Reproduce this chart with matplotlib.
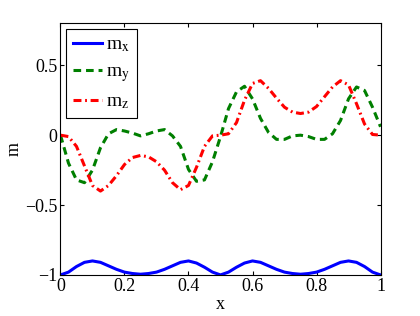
import numpy as np
import matplotlib.pyplot as plt

plt.rcParams['font.family'] = ['Liberation Serif', 'DejaVu Serif']
plt.rcParams['mathtext.fontset'] = 'stix'

x = np.linspace(0, 1, 41)

m_x = [-1.0, -0.98, -0.94, -0.91, -0.90, -0.91, -0.935, -0.96, -0.98, -0.99,
       -0.995, -0.99, -0.98, -0.96, -0.935, -0.91, -0.90, -0.915, -0.945, -0.98,
       -1.0, -0.98, -0.945, -0.915, -0.90, -0.91, -0.935, -0.96, -0.98, -0.99,
       -0.995, -0.99, -0.98, -0.96, -0.935, -0.91, -0.90, -0.91, -0.94, -0.98,
       -1.0]

m_y = [0.0, -0.2, -0.32, -0.34, -0.25, -0.09, 0.01, 0.04, 0.03, 0.015,
       -0.005, 0.01, 0.03, 0.04, -0.005, -0.08, -0.245, -0.33, -0.32, -0.19,
       -0.01, 0.19, 0.31, 0.35, 0.26, 0.12, 0.02, -0.03, -0.03, -0.005,
       0.0, -0.01, -0.03, -0.03, 0.01, 0.105, 0.26, 0.345, 0.32, 0.2,
       0.06]

m_z = [0.0, -0.01, -0.08, -0.22, -0.36, -0.40, -0.36, -0.29, -0.21, -0.16,
       -0.145, -0.155, -0.19, -0.25, -0.34, -0.39, -0.36, -0.23, -0.08, -0.005,
       0.0, 0.01, 0.09, 0.25, 0.37, 0.39, 0.335, 0.265, 0.20, 0.165,
       0.155, 0.165, 0.205, 0.275, 0.345, 0.39, 0.36, 0.225, 0.08, 0.005,
       0.0]

xticks = [0, 0.2, 0.4, 0.6, 0.8, 1]
xticklabels = ['0', '0.2', '0.4', '0.6', '0.8', '1']
yticks = [-1, -0.5, 0, 0.5]
yticklabels = ['\u22121', '\u22120.5', '0', '0.5']

fig = plt.figure(figsize=(4.2, 3.16), dpi=100)
ax = fig.add_axes([0.144, 0.130, 0.762, 0.796])

ax.plot(x, m_x, color='#0000ff', lw=2.2, label=r'm$_{\rm x}$')
ax.plot(x, m_y, color='#007f00', lw=2.2, dashes=(2.5, 1.6), label=r'm$_{\rm y}$')
ax.plot(x, m_z, color='#ff0000', lw=2.2, dashes=(2.6, 1.2, 0.6, 1.2), label=r'm$_{\rm z}$')

ax.set_xlim(0, 1)
ax.set_ylim(-1, 0.8)
ax.set_xticks(xticks)
ax.set_xticklabels(xticklabels)
ax.set_yticks(yticks)
ax.set_yticklabels(yticklabels)
ax.tick_params(direction='in', top=True, right=True, labelsize=13, length=3, pad=2)
ax.set_xlabel('x', fontsize=13, labelpad=1)
ax.set_ylabel('m', fontsize=13, labelpad=2)

leg = ax.legend(loc='upper left', fontsize=14, fancybox=False, framealpha=1,
                edgecolor='black', borderaxespad=0.3, handlelength=1.5,
                handletextpad=0.2, borderpad=0.35, labelspacing=0.45)
leg.get_frame().set_linewidth(0.8)

fig.savefig('out.png', dpi=100)
